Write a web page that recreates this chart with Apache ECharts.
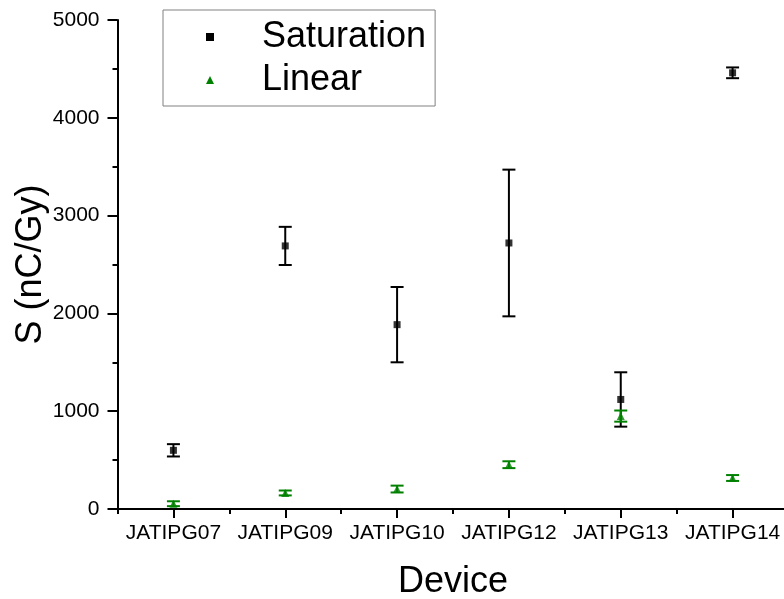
<!DOCTYPE html>
<html>
<head>
<meta charset="utf-8">
<script src="https://cdn.jsdelivr.net/npm/echarts@6/dist/echarts.min.js"></script>
<style>
  html, body { margin: 0; padding: 0; background: #fff; }
  #chart { width: 784px; height: 599px; }
</style>
</head>
<body>
<div id="chart"></div>
<script>
// Devices on the x axis
const categories = ['JATIPG07', 'JATIPG09', 'JATIPG10', 'JATIPG12', 'JATIPG13', 'JATIPG14'];
// Sensitivity S (nC/Gy), saturation fit, with its uncertainty
const saturation = [600, 2690, 1885, 2720, 1120, 4460];
const saturationErr = [63, 195, 385, 750, 278, 55];
// Sensitivity S (nC/Gy), linear fit, with its uncertainty
const linear = [54, 164, 204, 453, 950, 317];
const linearErr = [25, 25, 35, 35, 57, 30];
// Y-axis ticks
const yMin = 0, yMax = 5000, yStep = 1000;

const FONT = 'Liberation Sans, Arial, sans-serif';
const GREEN = '#008000';

function errData(vals, errs) {
  return vals.map((v, i) => [i, v - errs[i], v + errs[i]]);
}

function errorBarSeries(name, vals, errs, color) {
  return {
    type: 'custom',
    name: name,
    xAxisIndex: 0,
    yAxisIndex: 0,
    silent: true,
    data: errData(vals, errs),
    renderItem: function (params, api) {
      const x = api.value(0);
      const lo = api.coord([x, api.value(1)]);
      const hi = api.coord([x, api.value(2)]);
      const half = 6.5;
      const style = { stroke: color, lineWidth: 2 };
      return {
        type: 'group',
        children: [
          { type: 'line', shape: { x1: lo[0], y1: lo[1], x2: hi[0], y2: hi[1] }, style: style },
          { type: 'line', shape: { x1: lo[0] - half, y1: lo[1], x2: lo[0] + half, y2: lo[1] }, style: style },
          { type: 'line', shape: { x1: hi[0] - half, y1: hi[1], x2: hi[0] + half, y2: hi[1] }, style: style }
        ]
      };
    },
    z: 2
  };
}

const chart = echarts.init(document.getElementById('chart'), null, { renderer: 'canvas' });

chart.setOption({
  backgroundColor: '#fff',
  animation: false,
  textStyle: { fontFamily: FONT },
  grid: { left: 117.5, top: 20, width: 671, bottom: 90, containLabel: false, outerBoundsMode: 'none' },
  legend: {
    orient: 'vertical',
    left: 163,
    top: 10,
    padding: [7, 9, 6, 43],
    itemGap: 3,
    itemWidth: 8,
    itemHeight: 8,
    borderColor: '#808080',
    borderWidth: 1,
    data: [
      { name: 'Saturation', icon: 'rect', itemStyle: { color: '#000' } },
      { name: 'Linear', icon: 'triangle', itemStyle: { color: GREEN } }
    ],
    textStyle: { fontFamily: FONT, fontSize: 36, color: '#000', lineHeight: 40, padding: [0, 0, 0, 43] }
  },
  xAxis: [
    {
      type: 'category',
      data: categories,
      boundaryGap: true,
      name: 'Device',
      nameLocation: 'middle',
      nameGap: 55,
      nameMoveOverlap: false,
      nameTextStyle: { fontFamily: FONT, fontSize: 36, color: '#000' },
      axisLine: { show: true, lineStyle: { color: '#000', width: 2 } },
      axisTick: { show: true, alignWithLabel: true, length: 9, lineStyle: { color: '#000', width: 2 } },
      axisLabel: { fontFamily: FONT, fontSize: 21, color: '#000', margin: 14, interval: 0 },
      splitLine: { show: false }
    },
    {
      // boundary ticks between devices
      type: 'category',
      data: categories,
      position: 'bottom',
      boundaryGap: true,
      axisLine: { show: false },
      axisTick: { show: true, length: 5, interval: 0, lineStyle: { color: '#000', width: 2 } },
      axisLabel: { show: false },
      splitLine: { show: false }
    }
  ],
  yAxis: {
    type: 'value',
    min: yMin,
    max: yMax,
    interval: yStep,
    name: 'S (nC/Gy)',
    nameLocation: 'middle',
    nameGap: 68,
    nameMoveOverlap: false,
    nameTextStyle: { fontFamily: FONT, fontSize: 36, color: '#000' },
    axisLine: { show: true, lineStyle: { color: '#000', width: 2 } },
    axisTick: { show: true, length: 10, lineStyle: { color: '#000', width: 2 } },
    minorTick: { show: true, splitNumber: 2, length: 5, lineStyle: { color: '#000', width: 2 } },
    axisLabel: { fontFamily: FONT, fontSize: 21, color: '#000', margin: 18, formatter: v => String(v) },
    splitLine: { show: false },
    minorSplitLine: { show: false }
  },
  series: [
    errorBarSeries('Saturation', saturation, saturationErr, '#000'),
    {
      type: 'scatter',
      name: 'Saturation',
      data: saturation.map((v, i) => [i, v]),
      symbol: 'rect',
      symbolSize: 7,
      itemStyle: { color: '#000' },
      z: 3
    },
    errorBarSeries('Linear', linear, linearErr, GREEN),
    {
      type: 'scatter',
      name: 'Linear',
      data: linear.map((v, i) => [i, v]),
      symbol: 'triangle',
      symbolSize: 8,
      itemStyle: { color: GREEN },
      z: 5
    }
  ]
});
</script>
</body>
</html>
